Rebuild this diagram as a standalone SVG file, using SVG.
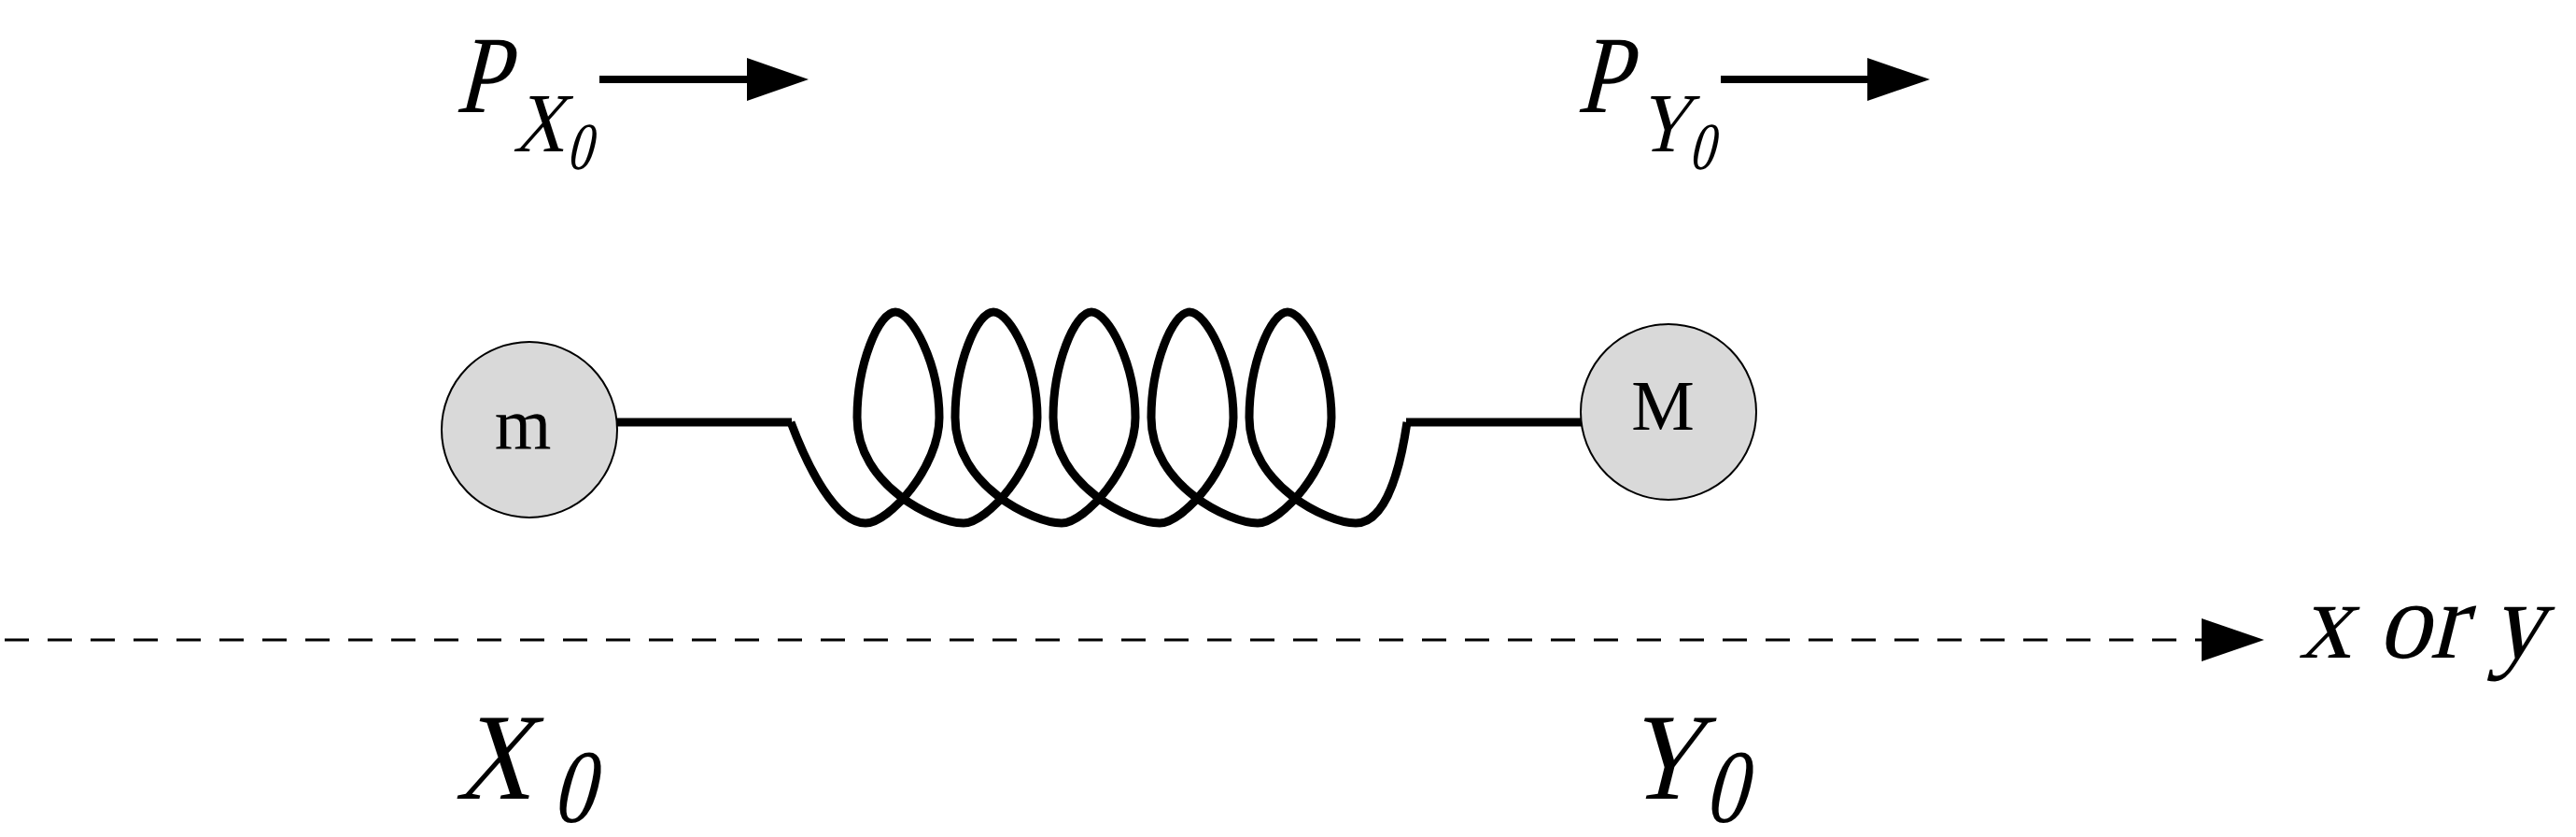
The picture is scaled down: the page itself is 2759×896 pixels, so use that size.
<svg xmlns="http://www.w3.org/2000/svg" width="2759" height="896" viewBox="0 0 2759 896">
<style>
.it{font-family:"Liberation Serif","Times New Roman",serif;fill:#000}
.rm{font-family:"Liberation Serif",serif;fill:#000}
.mass{fill:#d9d9d9;stroke:#000;stroke-width:2}
.thick{stroke:#000;stroke-width:9;fill:none}
.head{fill:#000}
</style>
<rect width="2759" height="896" fill="#fff"/>
<g id="mass-m"><circle class="mass" cx="567" cy="460" r="94"/><text class="rm" x="560" y="480" font-size="78" text-anchor="middle">m</text></g>
<g id="mass-M"><circle class="mass" cx="1787" cy="441" r="94"/><text class="rm" x="1781" y="460" font-size="76" text-anchor="middle">M</text></g>
<g id="connectors">
<line class="thick" x1="661" y1="452" x2="848" y2="452"/>
<path class="thick" d="M847,452 C865,500 895,560 927,560
C952,560 1006,500 1006,447 C1006,390 977,334 959,334 C941,334 918,390 918,447 C918,520 1002,560 1032,560
C1057,560 1111,500 1111,447 C1111,390 1082,334 1064,334 C1046,334 1023,390 1023,447 C1023,520 1107,560 1137,560
C1162,560 1216,500 1216,447 C1216,390 1187,334 1169,334 C1151,334 1128,390 1128,447 C1128,520 1212,560 1242,560
C1267,560 1321,500 1321,447 C1321,390 1292,334 1274,334 C1256,334 1233,390 1233,447 C1233,520 1317,560 1347,560
C1372,560 1426,500 1426,447 C1426,390 1397,334 1379,334 C1361,334 1338,390 1338,447 C1338,520 1422,560 1452,560
C1485,560 1500,500 1507,452"/>
<line class="thick" x1="1506" y1="452" x2="1694" y2="452"/>
<line x1="642" y1="85" x2="801" y2="85" stroke="#000" stroke-width="8"/>
<polygon class="head" points="800,62 866,85 800,108"/>
<line x1="1843" y1="85" x2="2001" y2="85" stroke="#000" stroke-width="8"/>
<polygon class="head" points="2000,62 2067,85 2000,108"/>
<line x1="5" y1="685" x2="2360" y2="685" stroke="#000" stroke-width="3" stroke-dasharray="26 20"/>
<polygon class="head" points="2358,662 2425,685 2358,708"/>
</g>
<g id="labels">
<text class="it" font-size="118" transform="translate(487,120) skewX(-14) scale(0.85,1)">P</text>
<text class="it" font-size="90" transform="translate(549,162) skewX(-14) scale(0.85,1)">X</text>
<text class="it" font-size="72" transform="translate(606,181) skewX(-14) scale(0.75,1)">0</text>
<text class="it" font-size="118" transform="translate(1688,120) skewX(-14) scale(0.85,1)">P</text>
<text class="it" font-size="90" transform="translate(1753,162) skewX(-14) scale(0.85,1)">Y</text>
<text class="it" font-size="72" transform="translate(1808,181) skewX(-14) scale(0.75,1)">0</text>
<text class="it" font-size="132" transform="translate(487,855) skewX(-14) scale(0.85,1)">X</text>
<text class="it" font-size="112" transform="translate(590,880) skewX(-14) scale(0.8,1)">0</text>
<text class="it" font-size="132" transform="translate(1739,855) skewX(-14) scale(0.85,1)">Y</text>
<text class="it" font-size="112" transform="translate(1824,880) skewX(-14) scale(0.8,1)">0</text>
<text class="it" font-size="118" transform="translate(2462,704) skewX(-14) scale(0.95,1)">x or y</text>
</g>
</svg>
